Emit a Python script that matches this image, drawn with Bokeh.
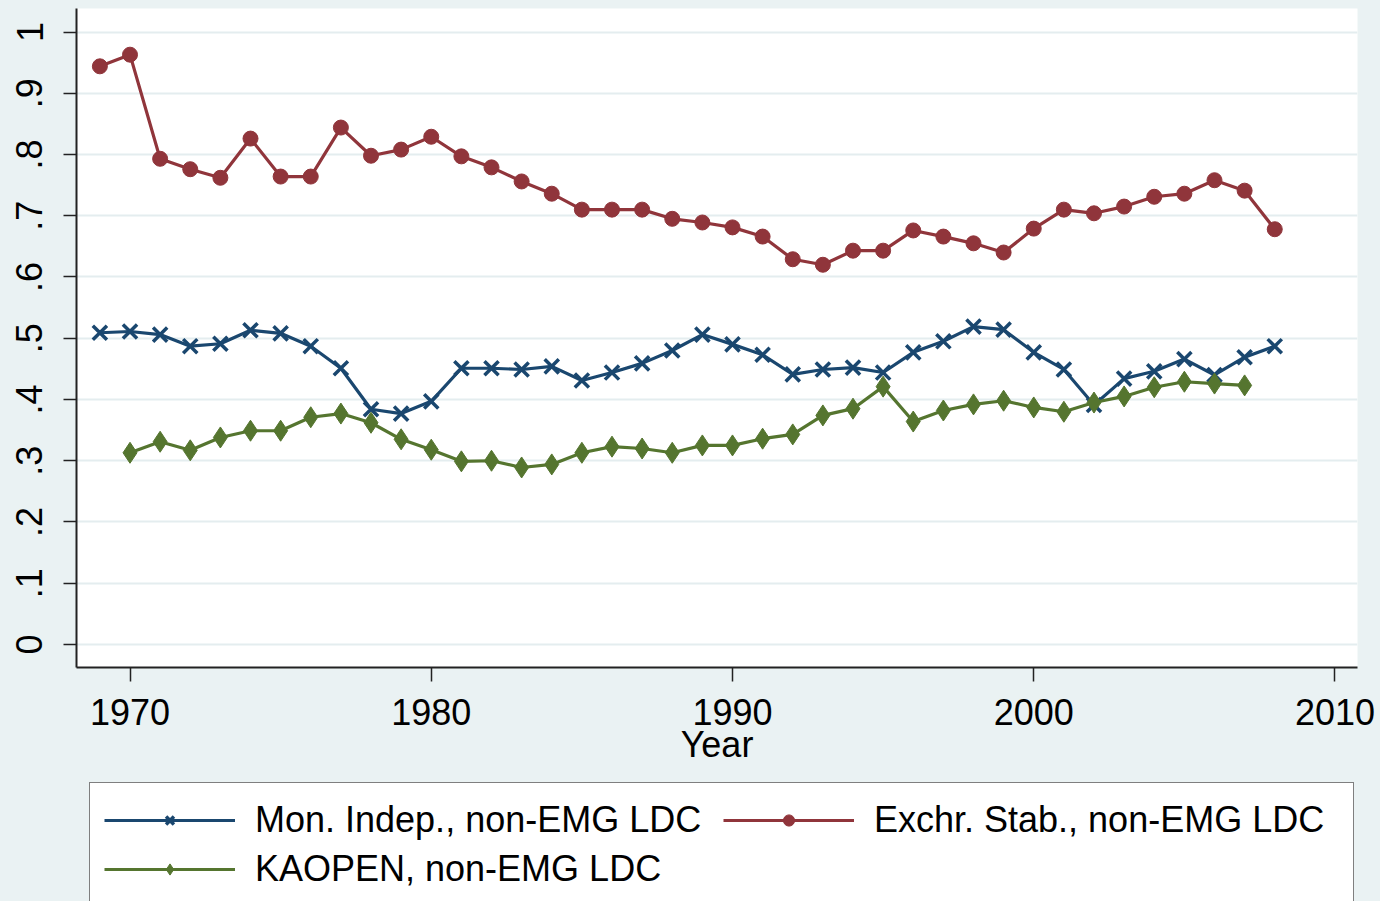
from bokeh.plotting import figure
from bokeh.layouts import column
from bokeh.models import Range1d, FixedTicker, Legend, LegendItem
from bokeh.embed import file_html
from bokeh.resources import INLINE

# ---------------- data ----------------
years_mon_indep = list(range(1969, 2009))
mon_indep = [0.509, 0.511, 0.506, 0.487, 0.491, 0.513, 0.508, 0.487, 0.451, 0.384,
             0.377, 0.397, 0.451, 0.451, 0.449, 0.454, 0.431, 0.444, 0.459, 0.480,
             0.506, 0.490, 0.473, 0.441, 0.449, 0.452, 0.444, 0.477, 0.495, 0.519,
             0.514, 0.477, 0.449, 0.391, 0.434, 0.446, 0.466, 0.440, 0.469, 0.487]

years_exchr_stab = list(range(1969, 2009))
exchr_stab = [0.944, 0.963, 0.793, 0.776, 0.762, 0.826, 0.764, 0.764, 0.844, 0.798,
              0.808, 0.829, 0.797, 0.779, 0.756, 0.736, 0.710, 0.710, 0.710, 0.695,
              0.689, 0.681, 0.666, 0.629, 0.620, 0.643, 0.643, 0.676, 0.666, 0.655,
              0.640, 0.679, 0.710, 0.704, 0.715, 0.731, 0.736, 0.758, 0.741, 0.678]

years_kaopen = list(range(1970, 2008))
kaopen = [0.313, 0.331, 0.317, 0.338, 0.349, 0.349, 0.371, 0.377, 0.362, 0.335,
          0.318, 0.299, 0.300, 0.289, 0.294, 0.313, 0.323, 0.320, 0.313, 0.325,
          0.325, 0.336, 0.343, 0.374, 0.385, 0.421, 0.364, 0.382, 0.392, 0.398,
          0.387, 0.380, 0.395, 0.405, 0.420, 0.429, 0.426, 0.423]

series_labels = ["Mon. Indep., non-EMG LDC", "Exchr. Stab., non-EMG LDC", "KAOPEN, non-EMG LDC"]
x_ticks = [1970, 1980, 1990, 2000, 2010]
y_ticks = [0.0, 0.1, 0.2, 0.3, 0.4, 0.5, 0.6, 0.7, 0.8, 0.9, 1.0]
y_tick_labels = ["0", ".1", ".2", ".3", ".4", ".5", ".6", ".7", ".8", ".9", "1"]
x_axis_title = "Year"

# ---------------- style ----------------
BLUE = "#1A476F"
RED = "#90353B"
GREEN = "#55752F"
BG = "#EAF2F3"
FONT = "Liberation Sans"
FS = "36px"

series = [
    (years_mon_indep, mon_indep, BLUE, dict(marker="x", size=20, line_width=3.5)),
    (years_exchr_stab, exchr_stab, RED, dict(marker="circle", size=15)),
    (years_kaopen, kaopen, GREEN, dict(marker="diamond", size=21)),
]

# ---------------- main chart ----------------
p = figure(width=1380, height=770,
           x_range=Range1d(1968.224, 2010.747), y_range=Range1d(-0.0376, 1.0384),
           output_backend="svg", toolbar_location=None,
           min_border_left=76, min_border_right=23, min_border_top=8, min_border_bottom=103,
           background_fill_color="white", border_fill_color=BG, outline_line_color=None)

p.xaxis.ticker = FixedTicker(ticks=x_ticks)
p.yaxis.ticker = FixedTicker(ticks=y_ticks)
p.yaxis.major_label_overrides = {t: l for t, l in zip(y_ticks, y_tick_labels)}
p.yaxis.major_label_orientation = "vertical"
p.xaxis.axis_label = x_axis_title
for ax in (p.xaxis, p.yaxis):
    ax.minor_tick_line_color = None
    ax.major_tick_in = 0
    ax.axis_line_color = "#222222"
    ax.axis_line_width = 2
    ax.major_tick_line_color = "#222222"
    ax.major_tick_line_width = 1.5
    ax.major_label_text_font = FONT
    ax.major_label_text_font_size = FS
    ax.major_label_text_color = "black"
    ax.axis_label_text_font = FONT
    ax.axis_label_text_font_size = FS
    ax.axis_label_text_font_style = "normal"
    ax.axis_label_text_color = "black"
p.xaxis.major_tick_out = 14
p.yaxis.major_tick_out = 13
p.xaxis.major_label_standoff = 17
p.yaxis.major_label_standoff = 21
p.xaxis.axis_label_standoff = -4

p.xgrid.grid_line_color = None
p.ygrid.grid_line_color = "#E4EDEF"
p.ygrid.grid_line_width = 2

for xs, ys, color, mk in series:
    p.line(xs, ys, line_color=color, line_width=3.2)
    p.scatter(xs, ys, fill_color=color, line_color=color, **mk)

# ---------------- legend strip (same series, legend only; frame aligned with chart) ----------------
q = figure(width=1380, height=131, x_range=Range1d(0, 1), y_range=Range1d(0, 1),
           output_backend="svg", toolbar_location=None,
           x_axis_location=None, y_axis_location=None,
           min_border=0, min_border_left=0, min_border_right=0, min_border_top=0, min_border_bottom=0,
           background_fill_color=BG, border_fill_color=BG, outline_line_color=None)
q.grid.grid_line_color = None

items = []
for (xs, ys, color, mk), label in zip(series, series_labels):
    rl = q.line(xs, ys, line_color=color, line_width=3.2)
    rm = q.scatter(xs, ys, fill_color=color, line_color=color, **mk)
    items.append(LegendItem(label=label, renderers=[rl, rm]))

legend = Legend(items=items, location=(13, -6), orientation="horizontal", ncols=2,
                glyph_width=131, glyph_height=28, label_height=46, label_width=465,
                label_standoff=20, spacing=3, padding=14, margin=0,
                border_line_color="black", border_line_width=1.5,
                background_fill_color="white", background_fill_alpha=1,
                label_text_font=FONT, label_text_font_size=FS, label_text_color="black")
q.add_layout(legend)

layout = column(p, q, spacing=0, styles={"background-color": BG})
open("out.html", "w").write(file_html(layout, INLINE))
